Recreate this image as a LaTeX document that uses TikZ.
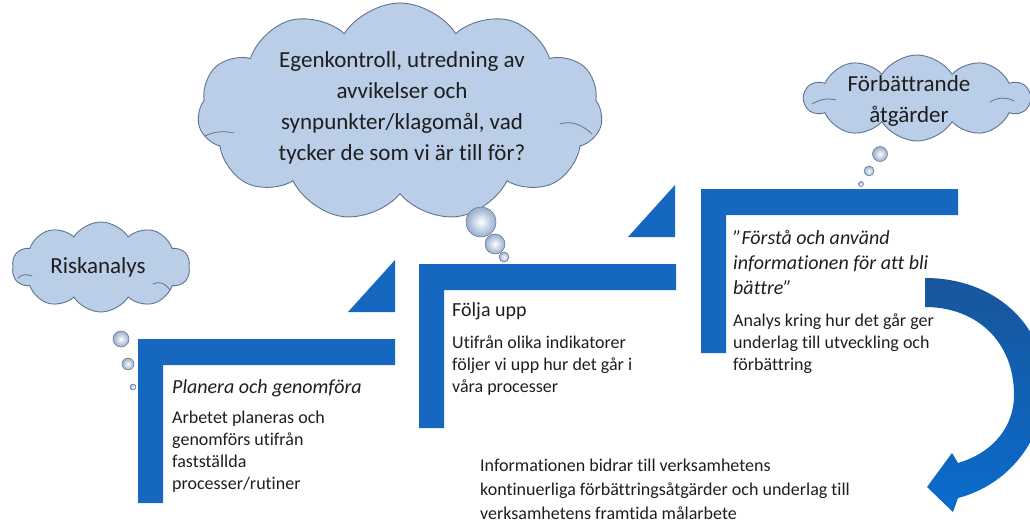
\documentclass[tikz,border=0pt]{standalone}
\usepackage{fontspec}
\setmainfont{Carlito}[Ligatures=NoCommon,Contextuals=NoAlternate]
\usetikzlibrary{shapes.symbols}
\definecolor{stegbla}{RGB}{21,103,192}
\definecolor{molnfyll}{RGB}{186,206,231}
\definecolor{molnkant}{RGB}{95,115,145}
\definecolor{bubbelfarg}{RGB}{150,172,205}
\definecolor{pilmork}{RGB}{24,86,155}
\definecolor{pilljus}{RGB}{10,108,205}
\definecolor{textfarg}{RGB}{30,30,30}

\begin{document}
\begin{tikzpicture}[x=1pt,y=-1pt,text=textfarg,
  moln/.style={cloud,cloud puffs=#1,cloud puff arc=115,draw=molnkant,fill=molnfyll,line width=0.9pt,inner sep=0pt},
  bubbla/.style={circle,inner color=white,outer color=bubbelfarg,draw=molnkant,line width=0.5pt,inner sep=0pt,minimum size=#1},
  veck/.style={draw=molnkant,line width=0.8pt},
  molntext/.style={align=center,font=\fontsize{23}{31}\selectfont},
  rubrik/.style={anchor=base west,inner sep=0pt,font=\fontsize{20}{25}\selectfont},
  brod/.style={anchor=north west,inner sep=0pt,align=left,font=\fontsize{18}{22}\selectfont}]
\clip (0,0) rectangle (1030,527);
% trappstegen
\foreach \x/\y/\n in {138/339/1,419/264/2,701/189/3} {
\fill[stegbla] (\x,\y) coordinate (s\n) -- ++(257,0) -- ++(0,26) -- ++(-232,0) -- ++(0,138) -- ++(-25,0) -- cycle;}
\foreach \x/\y in {395/312,675/237} {
\fill[stegbla] (\x,\y) -- ++(-47,0) -- ++(47,-52) -- cycle;}
% pilen
\shade[top color=pilmork,bottom color=pilljus] (925,278) .. controls (995,278) and (1045,325) .. (1045,385)
  .. controls (1045,440) and (1008,485) .. (958,498) -- (953,512) -- (927,487) -- (952,453) -- (958,463)
  .. controls (995,452) and (1014,425) .. (1014,395) .. controls (1014,340) and (975,307) .. (925,307) -- cycle;
% molnen
\node[moln=11,minimum width=405pt,minimum height=218pt] (egen) at (400,112) {};
\node[molntext] (egen text) at (402,108) {Egenkontroll, utredning av\\avvikelser och\\synpunkter/klagomål, vad\\tycker de som vi är till för?};
\node[moln=10,minimum width=178pt,minimum height=90pt] (risk) at (101,267) {};
\node[molntext] (risk text) at (98,267) {Riskanalys};
\node[moln=10,minimum width=225pt,minimum height=86pt] (forb) at (917,98) {};
\node[molntext] (forb text) at (909,101) {Förbättrande\\åtgärder};
\draw[veck] (205,136) .. controls (215,131) and (225,131) .. (234,133);
\draw[veck] (560,124) .. controls (572,120) and (584,126) .. (592,134);
\draw[veck] (153,284) .. controls (160,281) and (165,283) .. (170,290);
\draw[veck] (18,278) .. controls (22,274) and (27,274) .. (32,276);
\draw[veck] (812,104) .. controls (820,99) and (828,98) .. (836,100);
\draw[veck] (990,102) .. controls (998,97) and (1006,97) .. (1014,101);
\foreach \x/\y/\d/\n in {481/222/30/1,495/244/20/2,504/257/10/3} {\node[bubbla=\d pt] (eb\n) at (\x,\y) {};}
\foreach \x/\y/\d/\n in {121/339/16/1,128/364/12/2,133/387/6/3} {\node[bubbla=\d pt] (rb\n) at (\x,\y) {};}
\foreach \x/\y/\d/\n in {880/154/15/1,869/171/10/2,861/184/5/3} {\node[bubbla=\d pt] (fb\n) at (\x,\y) {};}
% texterna
\node[rubrik,font=\fontsize{20}{25}\selectfont\itshape] (plan) at (172,393) {Planera och genomföra};
\node[brod] (plan text) at (172,411) {Arbetet planeras och\\genomförs utifrån\\fastställda\\processer/rutiner};
\node[rubrik] (folj) at (452,316) {Följa upp};
\node[brod] (folj text) at (452,336) {Utifrån olika indikatorer\\följer vi upp hur det går i\\våra processer};
\node[brod,font=\fontsize{20}{25}\selectfont\itshape] (forsta) at (733,230) {”Förstå och använd\\informationen för att bli\\bättre”};
\node[brod] (forsta text) at (733,314) {Analys kring hur det går ger\\underlag till utveckling och\\förbättring};
\node[brod,font=\fontsize{18}{24}\selectfont] (info) at (480,459) {Informationen bidrar till verksamhetens\\kontinuerliga förbättringsåtgärder och underlag till\\verksamhetens framtida målarbete};
\end{tikzpicture}
\end{document}
